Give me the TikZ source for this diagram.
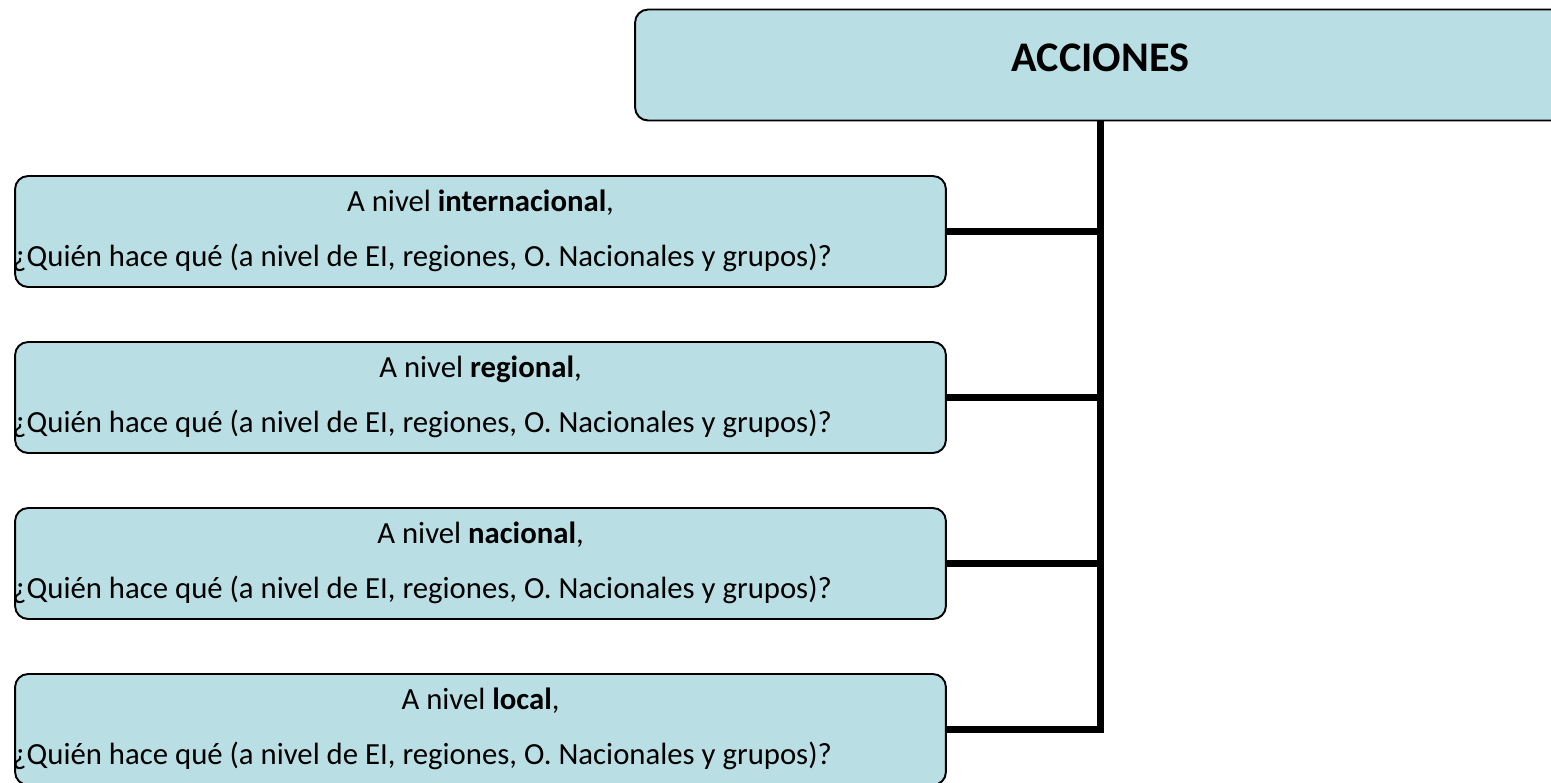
\documentclass[tikz,border=0pt]{standalone}
\usepackage{fontspec}
\setmainfont{Carlito}
\usetikzlibrary{positioning,calc}

\definecolor{boxfill}{RGB}{185,223,228}
\tikzset{
  levelbox/.style={draw,line width=1.1pt,rounded corners=0.26cm,fill=boxfill,
    minimum width=18.62cm,minimum height=2.22cm,inner sep=0pt},
  trunk/.style={line width=3.6pt,line join=miter},
  lbl/.style={font=\fontsize{17.5}{21}\selectfont,inner sep=0pt}
}

\begin{document}
\begin{tikzpicture}[x=0.02cm,y=-0.02cm]
  \clip (0,0) rectangle (1551,782);
  % top box
  \node[levelbox] (acciones) at (1100.5,65) {};
  \node[lbl,anchor=base,font=\fontsize{24}{28}\selectfont\bfseries] (acciones_t) at ($(acciones.north)+(0,63)$) {ACCIONES};
  % one box per level
  \foreach \lev [count=\i] in {internacional,regional,nacional,local} {
    \node[levelbox] (n\i) at (480.5,{231.5+166*(\i-1)}) {};
    \node[lbl,anchor=base] (t\i) at ($(n\i.north)+(0,36)$) {A nivel \textbf{\lev},};
    \node[lbl,anchor=base west] (q\i) at ($(n\i.north west)+(-2,91)$) {¿Quién hace qué (a nivel de EI, regiones, O. Nacionales y grupos)?};
  }
  % connectors
  \draw[trunk] (acciones.south) |- (n4.east);
  \foreach \i in {1,2,3}
    \draw[trunk] (n\i.east) -- (n\i.east -| acciones.south);
\end{tikzpicture}
\end{document}
